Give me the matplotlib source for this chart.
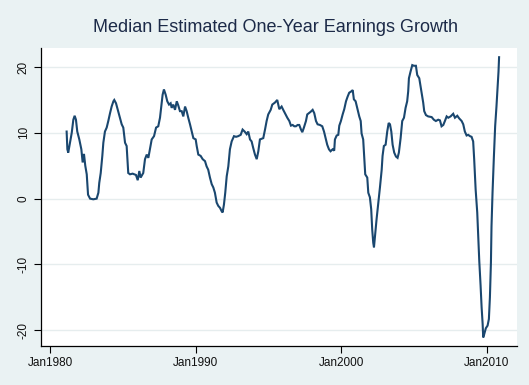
import matplotlib
matplotlib.use("Agg")
import matplotlib.pyplot as plt

plt.rcParams['font.family'] = ['Liberation Sans', 'DejaVu Sans']

# fractional years
years = [
    1981.14, 1981.19, 1981.25, 1981.37, 1981.49, 1981.60, 1981.69, 1981.78, 1981.87,
    1982.01, 1982.15, 1982.24, 1982.33, 1982.42, 1982.52, 1982.61, 1982.75, 1982.97,
    1983.20, 1983.32, 1983.38, 1983.48, 1983.59, 1983.66, 1983.77, 1983.89,
    1984.00, 1984.12, 1984.23, 1984.35, 1984.41, 1984.53, 1984.65, 1984.80, 1984.92,
    1985.03, 1985.15, 1985.26, 1985.33, 1985.37, 1985.49, 1985.67, 1985.90,
    1986.02, 1986.13, 1986.22, 1986.40, 1986.52, 1986.64, 1986.75, 1986.86, 1986.98,
    1987.14, 1987.28, 1987.43, 1987.55, 1987.66, 1987.73, 1987.82, 1987.94,
    1988.05, 1988.17, 1988.28, 1988.35, 1988.46, 1988.58, 1988.70, 1988.80, 1988.92,
    1989.04, 1989.15, 1989.27, 1989.38, 1989.49, 1989.61, 1989.73, 1989.84,
    1990.00, 1990.07, 1990.18, 1990.34, 1990.48, 1990.64, 1990.75, 1990.86, 1990.98,
    1991.10, 1991.21, 1991.32, 1991.44, 1991.55, 1991.67, 1991.78, 1991.85, 1991.94,
    1992.03, 1992.13, 1992.24, 1992.35, 1992.47, 1992.63, 1992.77, 1992.92,
    1993.09, 1993.22, 1993.36, 1993.50, 1993.61, 1993.73, 1993.84, 1993.95,
    1994.07, 1994.19, 1994.30, 1994.41, 1994.53, 1994.64, 1994.76, 1994.87, 1994.98,
    1995.15, 1995.26, 1995.44, 1995.60, 1995.74, 1995.90,
    1996.01, 1996.13, 1996.29, 1996.43, 1996.54, 1996.66, 1996.77, 1996.88,
    1997.00, 1997.11, 1997.23, 1997.32, 1997.43, 1997.57, 1997.66, 1997.78, 1997.89,
    1998.03, 1998.14, 1998.26, 1998.37, 1998.53, 1998.69, 1998.81, 1998.92,
    1999.03, 1999.15, 1999.26, 1999.40, 1999.51, 1999.56, 1999.68, 1999.79, 1999.86, 1999.97,
    2000.09, 2000.20, 2000.32, 2000.43, 2000.54, 2000.68, 2000.78, 2000.86, 2000.98,
    2001.09, 2001.23, 2001.33, 2001.39, 2001.50, 2001.57, 2001.64, 2001.78, 2001.85, 2001.96,
    2002.05, 2002.12, 2002.19, 2002.24, 2002.31, 2002.42, 2002.54, 2002.65, 2002.77, 2002.83, 2002.92,
    2003.04, 2003.15, 2003.25, 2003.34, 2003.43, 2003.52, 2003.63, 2003.75, 2003.86, 2003.95,
    2004.07, 2004.18, 2004.30, 2004.41, 2004.52, 2004.59, 2004.64, 2004.75, 2004.87, 2004.98,
    2005.12, 2005.21, 2005.35, 2005.44, 2005.53, 2005.62, 2005.69, 2005.81, 2005.96,
    2006.20, 2006.35, 2006.49, 2006.65, 2006.77, 2006.88,
    2007.00, 2007.11, 2007.23, 2007.34, 2007.50, 2007.68, 2007.80, 2007.96,
    2008.09, 2008.26, 2008.37, 2008.48, 2008.60, 2008.71, 2008.83, 2008.94,
    2009.05, 2009.12, 2009.22, 2009.33, 2009.40, 2009.47, 2009.56, 2009.63, 2009.70, 2009.74,
    2009.81, 2009.92, 2010.04, 2010.13, 2010.20, 2010.27, 2010.31, 2010.38, 2010.47,
    2010.56, 2010.65, 2010.72, 2010.79, 2010.83,
]

growth = [
    10.2, 7.5, 7.0, 8.5, 10.0, 12.0, 12.6, 12.0, 10.2,
    9.0, 7.5, 5.5, 6.8, 5.0, 3.7, 0.6, 0.0, -0.1,
    0.0, 0.9, 2.4, 3.9, 6.5, 8.5, 10.2, 10.8,
    11.8, 13.0, 14.0, 14.8, 15.0, 14.5, 13.5, 12.3, 11.3,
    10.8, 8.5, 8.0, 5.5, 3.9, 3.7, 3.8, 3.6,
    2.8, 4.2, 3.2, 3.9, 6.0, 6.7, 6.2, 7.5, 9.0,
    9.5, 10.8, 11.0, 12.3, 14.5, 15.8, 16.6, 15.8,
    14.8, 14.3, 14.5, 13.8, 14.3, 13.5, 14.8, 14.2, 13.3,
    13.3, 12.5, 14.0, 13.3, 12.3, 11.3, 10.2, 9.2,
    9.0, 8.0, 6.7, 6.5, 6.0, 5.7, 4.9, 4.4, 3.2,
    2.2, 1.7, 0.9, -0.6, -1.1, -1.4, -1.9, -2.1, -0.9,
    0.9, 3.4, 4.9, 7.5, 8.7, 9.5, 9.4, 9.5,
    9.7, 10.5, 10.2, 9.8, 10.2, 9.0, 8.7, 7.7,
    6.7, 6.0, 7.2, 9.0, 9.1, 9.2, 10.5, 11.8, 12.8,
    13.5, 14.3, 14.6, 15.0, 13.6, 14.0,
    13.5, 13.0, 12.3, 11.8, 11.1, 11.2, 11.0, 11.0,
    11.2, 11.2, 10.5, 10.1, 10.8, 11.8, 12.8, 13.0, 13.2,
    13.5, 13.0, 11.8, 11.3, 11.2, 11.0, 10.2, 9.2,
    8.2, 7.5, 7.2, 7.5, 7.3, 9.0, 9.6, 9.7, 11.1, 11.8,
    12.8, 13.6, 14.8, 15.5, 16.1, 16.3, 16.5, 15.1, 14.8,
    13.8, 12.5, 11.8, 9.9, 9.0, 6.2, 3.7, 3.2, 0.9, 0.2,
    -1.6, -4.7, -6.7, -7.4, -5.7, -3.1, -0.6, 1.7, 4.4, 6.5, 8.0,
    8.2, 10.2, 11.5, 11.3, 10.2, 8.2, 7.0, 6.4, 6.2, 7.0,
    9.2, 11.8, 12.3, 13.8, 14.8, 16.3, 18.3, 19.3, 20.3, 20.2,
    20.2, 18.8, 18.3, 17.1, 15.8, 14.6, 13.3, 12.7, 12.5,
    12.4, 12.0, 11.8, 12.0, 11.9, 11.0,
    11.2, 11.8, 12.5, 12.3, 12.5, 12.9, 12.3, 12.6,
    12.2, 11.8, 11.3, 10.2, 9.6, 9.7, 9.5, 9.4,
    8.7, 6.0, 1.4, -2.1, -5.7, -9.5, -13.2, -16.5, -19.0, -21.1,
    -20.6, -19.7, -19.3, -18.3, -15.0, -9.7, -4.2, 0.9, 6.2,
    11.0, 14.0, 16.6, 19.3, 21.5,
]

title = "Median Estimated One-Year Earnings Growth"
xtick_pos = [1980, 1990, 2000, 2010]
xtick_labels = ["Jan1980", "Jan1990", "Jan2000", "Jan2010"]
ytick_pos = [-20, -10, 0, 10, 20]

bg = "#EAF2F3"
line_color = "#1a476f"

fig = plt.figure(figsize=(5.29, 3.85), dpi=100, facecolor=bg)
ax = fig.add_axes([41/529, 1 - 346/385, 476/529, 298/385])
ax.set_facecolor("white")

ax.plot(years, growth, color=line_color, lw=1.5, solid_joinstyle='miter')

ax.set_xlim(1979.38, 2012.06)
ax.set_ylim(-22.4, 22.9)

ax.set_xticks(xtick_pos)
ax.set_xticklabels(xtick_labels, fontsize=8.5, color="#111111")
ax.set_yticks(ytick_pos)
ax.set_yticklabels([str(v) for v in ytick_pos], fontsize=8.5, color="#111111",
                   rotation=90, va='center')

ax.tick_params(axis='both', direction='out', length=5, width=0.8, color='black', pad=3)

ax.grid(axis='y', color="#E6EDEE", lw=1.0)
ax.set_axisbelow(True)

for s in ['top', 'right']:
    ax.spines[s].set_visible(False)
for s in ['left', 'bottom']:
    ax.spines[s].set_color('black')
    ax.spines[s].set_linewidth(0.9)

fig.text(0.52, 1 - 27/385, title, ha='center', va='center', fontsize=13, color="#1c2a48")

fig.savefig("out.png", dpi=100, facecolor=bg)
